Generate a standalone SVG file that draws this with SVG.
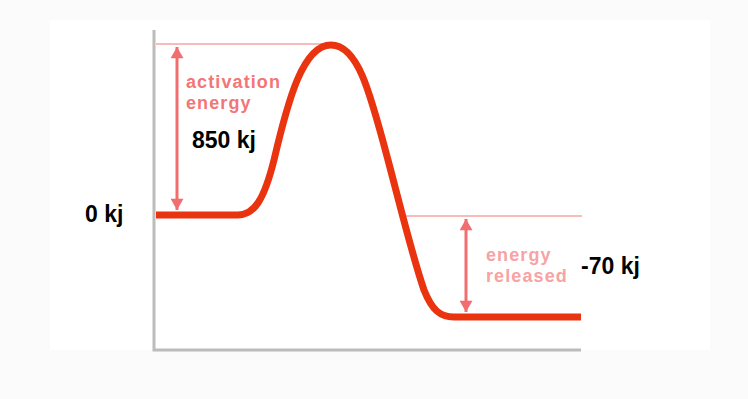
<svg xmlns="http://www.w3.org/2000/svg" width="748" height="399" viewBox="0 0 748 399">
<defs>
<style>
.axis{stroke:#bcbcbc;stroke-width:3;fill:none}
.guide{stroke:#f7a3a3;stroke-width:1.5;fill:none}
.curve{stroke:#ea3410;stroke-width:7;fill:none;stroke-linecap:butt;stroke-linejoin:round}
.arr{stroke:#f26d6d;stroke-width:3;fill:none}
.pink{font-family:'Liberation Sans',Arial,sans-serif;font-weight:bold;font-size:18px;letter-spacing:1.1px}
.val{font-family:'Liberation Sans',Arial,sans-serif;font-weight:bold;font-size:23px;fill:#000}
</style>
<marker id="ah" viewBox="0 0 13 15" refX="13" refY="7.5" markerWidth="15" markerHeight="13" orient="auto-start-reverse" markerUnits="userSpaceOnUse">
<path d="M0,0 L13,7.5 L0,15 Z" fill="#f26d6d"/>
</marker>
</defs>
<rect width="748" height="399" fill="#fbfbfb"/>
<rect x="50" y="20" width="660" height="330" fill="#ffffff"/>
<g id="axes">
<path class="axis" d="M154,30 V350 H581"/>
</g>
<g id="guides">
<line class="guide" x1="156" y1="44" x2="330" y2="44"/>
<line class="guide" x1="400" y1="216" x2="582" y2="216"/>
</g>
<g id="curve">
<path class="curve" d="M156,215 H238 C254,215 264,200 274,160 C288,100 303,45 331,45 C358,45 370,92 388,160 C400,205 412,255 424,290 C432,310 440,317 454,317 H581"/>
</g>
<g id="connectors">
<line class="arr" x1="177" y1="47" x2="177" y2="210" marker-start="url(#ah)" marker-end="url(#ah)"/>
<line class="arr" x1="466" y1="219" x2="466" y2="312" marker-start="url(#ah)" marker-end="url(#ah)"/>
</g>
<g id="activation">
<text class="pink" x="186" y="88" fill="#f27676">activation</text>
<text class="pink" x="186" y="109" fill="#f27676">energy</text>
</g>
<g id="released">
<text class="pink" x="486" y="261" fill="#f8a3a3">energy</text>
<text class="pink" x="486" y="282" fill="#f8a3a3">released</text>
</g>
<g id="labels">
<text class="val" x="192" y="148">850 kj</text>
<text class="val" x="85" y="222">0 kj</text>
<text class="val" x="581" y="274">-70 kj</text>
</g>
</svg>
